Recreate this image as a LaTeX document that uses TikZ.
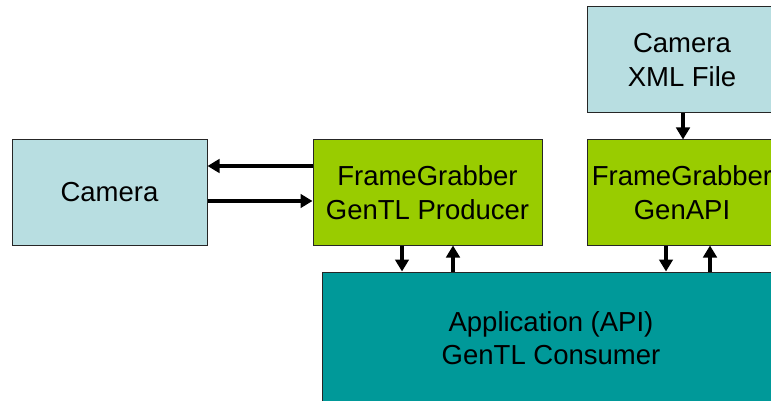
\documentclass[tikz,border=0pt]{standalone}
\usepackage{fontspec}
\setmainfont{Liberation Sans}
\usetikzlibrary{arrows.meta}
\definecolor{lightbox}{RGB}{184,222,225}
\definecolor{greenbox}{RGB}{153,204,0}
\definecolor{tealbox}{RGB}{0,153,153}
\tikzset{
  boxbase/.style={draw=black!85, line width=1pt, rectangle, align=center, inner sep=0pt,
    font=\fontsize{27.5}{34}\selectfont, text=black},
  bluebox/.style={boxbase, fill=lightbox},
  grnbox/.style={boxbase, fill=greenbox},
  tlbox/.style={boxbase, fill=tealbox, font=\fontsize{27.5}{33.5}\selectfont},
  arr/.style={line width=3.6pt, -{Triangle[length=12pt,width=13.5pt]}},
}
\begin{document}
\begin{tikzpicture}[x=1pt,y=-1pt]
\useasboundingbox (0,0) rectangle (771,401);
\clip (0,0) rectangle (771,401);
\node[bluebox, minimum width=195pt, minimum height=106pt] (cam) at (109.5,192.5) {Camera};
\node[grnbox, minimum width=229pt, minimum height=105pt] (fgp) at (427.5,192.5) {FrameGrabber\\GenTL Producer};
\node[bluebox, minimum width=190pt, minimum height=106pt] (xml) at (682,60) {Camera\\XML File};
\node[grnbox, minimum width=190pt, minimum height=105pt] (fga) at (682,192.5) {FrameGrabber\\GenAPI};
\node[tlbox, minimum width=458pt, minimum height=132pt] (app) at (551,338) {Application (API)\\GenTL Consumer};
% camera <-> producer
\draw[arr] ([yshift=26.5pt]fgp.west) -- ([yshift=26.5pt]cam.east);
\draw[arr] ([yshift=-8.5pt]cam.east) -- ([yshift=-8.5pt]fgp.west);
% producer <-> application
\draw[arr] ([xshift=-25.5pt]fgp.south) -- ([xshift=-25.5pt]fgp.south |- app.north);
\draw[arr] ([xshift=25.5pt]fgp.south |- app.north) -- ([xshift=25.5pt]fgp.south);
% xml -> genapi
\draw[arr] ([xshift=1pt]xml.south) -- ([xshift=1pt]fga.north);
% genapi <-> application
\draw[arr] ([xshift=-16pt]fga.south) -- ([xshift=-16pt]fga.south |- app.north);
\draw[arr] ([xshift=28pt]fga.south |- app.north) -- ([xshift=28pt]fga.south);
\end{tikzpicture}
\end{document}
